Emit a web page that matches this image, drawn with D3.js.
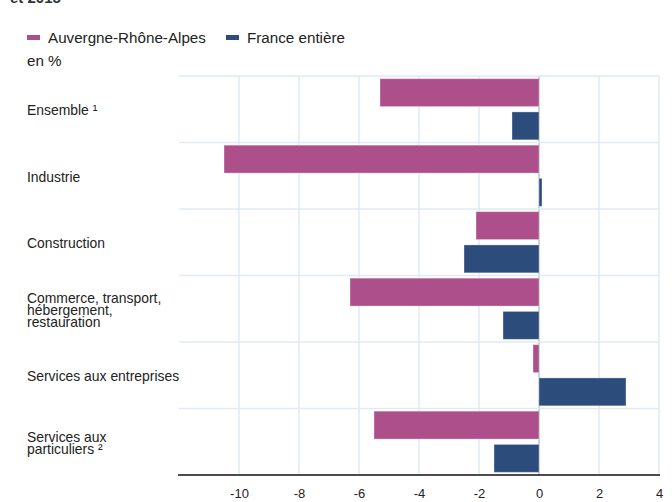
<!DOCTYPE html>
<html>
<head>
<meta charset="utf-8">
<script src="https://cdn.jsdelivr.net/npm/d3@7"></script>
<style>
  body { margin: 0; background: #fff; }
  text { font-family: "Liberation Sans", Arial, sans-serif; }
</style>
</head>
<body>
<div id="chart"></div>
<script>
// data
const categories = [
  ['Ensemble ¹'],
  ['Industrie'],
  ['Construction'],
  ['Commerce, transport,', 'hébergement,', 'restauration'],
  ['Services aux entreprises'],
  ['Services aux', 'particuliers ²']
];
const seriesNames = ['Auvergne-Rhône-Alpes', 'France entière'];
const araValues = [-5.3, -10.5, -2.1, -6.3, -0.2, -5.5];
const franceValues = [-0.9, 0.1, -2.5, -1.2, 2.9, -1.5];
const xTicks = [-10, -8, -6, -4, -2, 0, 2, 4];
const colors = ['#ad4f8b', '#2c4c7b'];

const width = 672, height = 502;
const margin = { top: 76, right: 12, bottom: 27, left: 179 };

const svg = d3.select('#chart').append('svg')
  .attr('width', width).attr('height', height);

// cut title at the top
svg.append('text').attr('x', 10).attr('y', 3)
  .attr('font-size', 15).attr('font-weight', 'bold').attr('fill', '#333')
  .text('et 2015');

// legend
const legend = svg.append('g').attr('transform', 'translate(27,37)');
[0, 199].forEach((dx, i) => {
  legend.append('rect').attr('x', dx).attr('y', -2).attr('width', 13).attr('height', 5)
    .attr('fill', colors[i]);
  legend.append('text').attr('x', dx + 21).attr('y', 5.5)
    .attr('font-size', 15.2).attr('fill', '#222').text(seriesNames[i]);
});
svg.append('text').attr('x', 27).attr('y', 66)
  .attr('font-size', 15.2).attr('fill', '#222').text('en %');

const x = d3.scaleLinear().domain([-12, 4]).range([margin.left, width - margin.right - 1]);
const y = d3.scaleBand().domain(d3.range(categories.length))
  .range([margin.top, height - margin.bottom]);
const y1 = d3.scaleBand().domain([0, 1]).range([0, y.bandwidth()])
  .paddingInner(0.16).paddingOuter(0.08);

// grid
const grid = svg.append('g');
grid.selectAll('line.v').data(xTicks).join('line')
  .attr('x1', d => x(d)).attr('x2', d => x(d))
  .attr('y1', margin.top).attr('y2', height - margin.bottom)
  .attr('stroke', d => d === 0 ? '#bcc3cc' : '#e1eaf4').attr('stroke-width', 1.5);
grid.selectAll('line.h').data(d3.range(categories.length)).join('line')
  .attr('x1', margin.left).attr('x2', x(4))
  .attr('y1', d => y(d)).attr('y2', d => y(d))
  .attr('stroke', '#e1eaf4').attr('stroke-width', 1.5);

// bars
const rows = svg.append('g').selectAll('g').data(categories).join('g')
  .attr('transform', (d, i) => `translate(0,${y(i)})`);
rows.selectAll('rect')
  .data((d, i) => [araValues[i], franceValues[i]])
  .join('rect')
  .attr('x', d => x(Math.min(0, d)))
  .attr('width', d => Math.abs(x(d) - x(0)))
  .attr('y', (d, j) => y1(j))
  .attr('height', y1.bandwidth())
  .attr('fill', (d, j) => colors[j])
  .attr('stroke', 'rgba(255,255,255,0.35)').attr('stroke-width', 1);

// category labels
const labels = svg.append('g').selectAll('text').data(categories).join('text')
  .attr('font-size', 13.9).attr('fill', '#222')
  .attr('transform', (d, i) => `translate(27,${y(i) + y.bandwidth() / 2})`);
labels.each(function (lines) {
  const t = d3.select(this);
  const lh = 12;
  const start = -(lines.length - 1) * lh / 2 + 6;
  lines.forEach((l, k) => t.append('tspan').attr('x', 0).attr('y', start + k * lh).text(l));
});

// x axis
const axis = svg.append('g').attr('transform', `translate(0,${height - margin.bottom})`)
  .call(d3.axisBottom(x).tickValues(xTicks).tickFormat(d => String(d)).tickSize(0).tickPadding(14));
axis.select('.domain').attr('stroke', '#111').attr('stroke-width', 1.5)
  .attr('d', `M${margin.left - 1},0H${x(4) + 1}`);
axis.selectAll('text').attr('font-size', 13).attr('fill', '#222')
  .attr('font-family', '"Liberation Sans", Arial, sans-serif');
</script>
</body>
</html>
